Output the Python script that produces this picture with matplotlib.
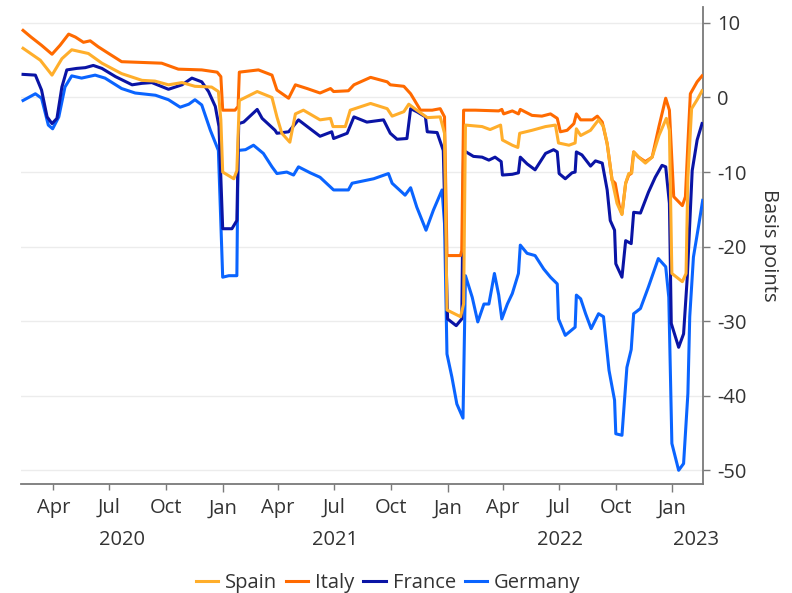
import numpy as np
import pandas as pd
import matplotlib
matplotlib.use("Agg")
import matplotlib.pyplot as plt
import matplotlib.dates as mdates
import matplotlib.transforms as mtransforms

# =============================================================================
# --- Data (basis points) -----------------------------------------------------
# =============================================================================

spain_dates = ['2020-02-12', '2020-03-11', '2020-03-30', '2020-04-15', '2020-05-01', '2020-05-28',
               '2020-06-19', '2020-07-21', '2020-08-23', '2020-09-13', '2020-10-05', '2020-10-27',
               '2020-11-17', '2020-12-14', '2020-12-25', '2020-12-29', '2021-01-01', '2021-01-19',
               '2021-01-24', '2021-01-28', '2021-02-26', '2021-03-22', '2021-03-30', '2021-04-07',
               '2021-04-20', '2021-04-29', '2021-05-12', '2021-06-08', '2021-06-25', '2021-06-29',
               '2021-07-19', '2021-07-27', '2021-08-29', '2021-09-25', '2021-10-03', '2021-10-22',
               '2021-10-30', '2021-11-12', '2021-11-29', '2021-12-20', '2021-12-27', '2021-12-31',
               '2022-01-22', '2022-01-27', '2022-01-30', '2022-02-26', '2022-03-11', '2022-03-28',
               '2022-03-31', '2022-04-16', '2022-04-25', '2022-04-28', '2022-05-18', '2022-06-09',
               '2022-06-25', '2022-06-30', '2022-07-17', '2022-07-27', '2022-07-29', '2022-08-05',
               '2022-08-21', '2022-09-03', '2022-09-11', '2022-09-17', '2022-09-25', '2022-10-03',
               '2022-10-11', '2022-10-17', '2022-10-22', '2022-10-27', '2022-10-30', '2022-11-07',
               '2022-11-18', '2022-11-29', '2022-12-10', '2022-12-22', '2022-12-27', '2022-12-31',
               '2023-01-17', '2023-01-23', '2023-01-26', '2023-02-01', '2023-02-10', '2023-02-18']
spain = [6.6, 5.0, 3.0, 5.2, 6.4, 5.9,
         4.6, 3.2, 2.3, 2.2, 1.7, 2.0,
         1.5, 1.4, 0.8, -3.0, -10.0, -10.9,
         -9.8, -0.4, 0.8, 0.0, -2.6, -4.8,
         -6.0, -2.2, -1.7, -3.0, -2.8, -3.9,
         -3.9, -1.7, -0.8, -1.5, -2.5, -1.9,
         -0.9, -1.7, -2.7, -2.6, -4.8, -28.5,
         -29.4, -27.7, -3.7, -3.9, -4.3, -3.7,
         -5.7, -6.4, -6.7, -4.8, -4.4, -3.9,
         -3.7, -6.1, -6.4, -6.1, -4.2, -5.1,
         -4.4, -3.0, -3.9, -6.2, -11.1, -14.2,
         -15.7, -11.5, -10.2, -10.1, -7.3, -8.0,
         -8.8, -8.0, -5.1, -2.8, -4.4, -23.6,
         -24.7, -23.6, -10.7, -1.5, -0.3, 0.9]

italy_dates = ['2020-02-12', '2020-02-25', '2020-03-13', '2020-03-30', '2020-04-12', '2020-04-26',
               '2020-05-07', '2020-05-20', '2020-05-31', '2020-06-13', '2020-06-30', '2020-07-21',
               '2020-08-23', '2020-09-24', '2020-10-21', '2020-11-28', '2020-12-23', '2020-12-29',
               '2021-01-01', '2021-01-21', '2021-01-26', '2021-01-28', '2021-02-28', '2021-03-22',
               '2021-03-30', '2021-04-18', '2021-04-29', '2021-05-18', '2021-06-08', '2021-06-25',
               '2021-06-30', '2021-07-24', '2021-08-02', '2021-08-29', '2021-09-25', '2021-09-30',
               '2021-10-22', '2021-11-02', '2021-11-18', '2021-12-07', '2021-12-20', '2021-12-27',
               '2021-12-31', '2022-01-22', '2022-01-24', '2022-01-27', '2022-02-15', '2022-03-25',
               '2022-03-30', '2022-04-02', '2022-04-16', '2022-04-26', '2022-04-29', '2022-05-18',
               '2022-06-03', '2022-06-17', '2022-06-28', '2022-07-03', '2022-07-14', '2022-07-25',
               '2022-07-29', '2022-08-05', '2022-08-24', '2022-09-01', '2022-09-09', '2022-09-17',
               '2022-09-25', '2022-09-30', '2022-10-07', '2022-10-11', '2022-10-17', '2022-10-22',
               '2022-10-26', '2022-10-30', '2022-11-07', '2022-11-18', '2022-11-29', '2022-12-10',
               '2022-12-21', '2022-12-27', '2022-12-31', '2023-01-03', '2023-01-17', '2023-01-22',
               '2023-01-26', '2023-01-30', '2023-02-10', '2023-02-18']
italy = [9.0, 8.1, 7.0, 5.8, 7.0, 8.5,
         8.1, 7.4, 7.6, 6.8, 5.9, 4.8,
         4.7, 4.6, 3.8, 3.7, 3.4, 2.8,
         -1.7, -1.7, -1.2, 3.4, 3.7, 3.0,
         1.0, -0.1, 1.7, 1.2, 0.6, 1.2,
         0.8, 0.9, 1.7, 2.7, 2.1, 1.7,
         1.5, 0.5, -1.7, -1.7, -1.5, -2.6,
         -21.2, -21.2, -20.5, -1.7, -1.7, -1.8,
         -1.6, -2.2, -1.8, -2.2, -1.6, -2.4,
         -2.5, -2.2, -2.8, -4.6, -4.4, -3.5,
         -2.2, -3.0, -3.0, -2.5, -3.3, -6.2,
         -11.1, -11.5, -14.7, -15.6, -11.5, -10.4,
         -10.2, -7.3, -8.0, -8.6, -8.0, -3.9,
         -0.1, -1.7, -8.4, -13.3, -14.5, -13.3,
         -6.2, 0.5, 2.1, 2.9]

france_dates = ['2020-02-12', '2020-03-03', '2020-03-13', '2020-03-22', '2020-03-30', '2020-04-07',
                '2020-04-15', '2020-04-23', '2020-05-09', '2020-05-23', '2020-06-05', '2020-06-19',
                '2020-07-11', '2020-08-07', '2020-08-23', '2020-09-08', '2020-10-05', '2020-10-27',
                '2020-11-12', '2020-11-28', '2020-12-09', '2020-12-20', '2020-12-26', '2021-01-01',
                '2021-01-16', '2021-01-24', '2021-01-27', '2021-02-04', '2021-02-26', '2021-03-06',
                '2021-03-27', '2021-03-30', '2021-04-18', '2021-05-04', '2021-05-23', '2021-06-08',
                '2021-06-27', '2021-06-30', '2021-07-22', '2021-08-02', '2021-08-23', '2021-09-19',
                '2021-09-30', '2021-10-11', '2021-10-27', '2021-11-02', '2021-11-12', '2021-11-26',
                '2021-11-29', '2021-12-15', '2021-12-25', '2022-01-01', '2022-01-15', '2022-01-24',
                '2022-01-27', '2022-02-12', '2022-02-26', '2022-03-09', '2022-03-19', '2022-03-29',
                '2022-03-31', '2022-04-16', '2022-04-26', '2022-04-29', '2022-05-10', '2022-05-23',
                '2022-06-09', '2022-06-22', '2022-06-28', '2022-07-01', '2022-07-11', '2022-07-22',
                '2022-07-27', '2022-07-29', '2022-08-07', '2022-08-21', '2022-08-29', '2022-09-09',
                '2022-09-17', '2022-09-22', '2022-09-29', '2022-10-01', '2022-10-11', '2022-10-17',
                '2022-10-26', '2022-10-30', '2022-11-10', '2022-11-23', '2022-12-04', '2022-12-15',
                '2022-12-21', '2022-12-27', '2022-12-30', '2023-01-11', '2023-01-19', '2023-01-25',
                '2023-02-02', '2023-02-10', '2023-02-18']
france = [3.1, 3.0, 1.0, -2.6, -3.5, -2.8,
          1.4, 3.7, 3.9, 4.0, 4.3, 3.9,
          2.8, 1.7, 1.9, 2.0, 1.1, 1.7,
          2.6, 2.1, 0.8, -1.2, -3.9, -17.6,
          -17.6, -16.5, -3.5, -3.3, -1.6, -2.8,
          -4.4, -4.8, -4.6, -3.0, -4.2, -5.2,
          -4.6, -5.5, -4.8, -2.6, -3.3, -3.0,
          -4.8, -5.6, -5.5, -1.5, -1.9, -2.6,
          -4.6, -4.7, -7.1, -29.7, -30.6, -29.7,
          -7.1, -7.9, -8.0, -8.4, -8.0, -8.6,
          -10.4, -10.3, -10.1, -8.0, -8.9, -9.7,
          -7.5, -7.0, -7.3, -10.2, -10.9, -10.1,
          -10.0, -7.3, -7.7, -9.2, -8.5, -8.8,
          -12.4, -16.5, -17.8, -22.3, -24.1, -19.2,
          -19.6, -15.4, -15.5, -12.7, -10.7, -9.1,
          -9.3, -14.2, -30.3, -33.5, -31.7, -24.1,
          -9.8, -5.7, -3.5]

germany_dates = ['2020-02-12', '2020-03-03', '2020-03-13', '2020-03-24', '2020-03-31', '2020-04-10',
                 '2020-04-20', '2020-05-01', '2020-05-17', '2020-06-08', '2020-06-24', '2020-07-21',
                 '2020-08-12', '2020-09-14', '2020-10-05', '2020-10-24', '2020-11-07', '2020-11-17',
                 '2020-11-28', '2020-12-12', '2020-12-25', '2021-01-01', '2021-01-11', '2021-01-24',
                 '2021-01-26', '2021-02-07', '2021-02-20', '2021-03-08', '2021-03-22', '2021-03-30',
                 '2021-04-15', '2021-04-26', '2021-05-04', '2021-05-23', '2021-06-08', '2021-06-30',
                 '2021-07-24', '2021-07-30', '2021-09-03', '2021-09-27', '2021-10-03', '2021-10-24',
                 '2021-11-02', '2021-11-12', '2021-11-27', '2021-12-09', '2021-12-23', '2021-12-27',
                 '2021-12-31', '2022-01-08', '2022-01-16', '2022-01-26', '2022-01-30', '2022-02-10',
                 '2022-02-19', '2022-03-01', '2022-03-09', '2022-03-13', '2022-03-18', '2022-03-25',
                 '2022-03-30', '2022-04-08', '2022-04-16', '2022-04-26', '2022-04-29', '2022-05-10',
                 '2022-05-23', '2022-06-06', '2022-06-17', '2022-06-28', '2022-06-30', '2022-07-11',
                 '2022-07-27', '2022-07-29', '2022-08-05', '2022-08-13', '2022-08-22', '2022-09-03',
                 '2022-09-11', '2022-09-20', '2022-09-29', '2022-10-01', '2022-10-11', '2022-10-19',
                 '2022-10-26', '2022-10-30', '2022-11-10', '2022-11-23', '2022-12-09', '2022-12-21',
                 '2022-12-26', '2022-12-31', '2023-01-11', '2023-01-19', '2023-01-26', '2023-01-29',
                 '2023-02-04', '2023-02-13', '2023-02-19']
germany = [-0.4, 0.5, -0.1, -3.7, -4.2, -2.6,
           1.4, 2.9, 2.6, 3.0, 2.6, 1.2,
           0.6, 0.3, -0.3, -1.3, -0.9, -0.3,
           -1.0, -4.4, -7.1, -24.1, -23.9, -23.9,
           -7.1, -7.0, -6.4, -7.5, -9.3, -10.2,
           -10.0, -10.4, -9.3, -10.1, -10.7, -12.4,
           -12.4, -11.5, -10.9, -10.2, -11.5, -13.1,
           -12.1, -14.7, -17.8, -15.1, -12.4, -16.9,
           -34.4, -37.5, -41.1, -43.0, -23.9, -26.8,
           -30.1, -27.7, -27.7, -25.9, -23.6, -26.5,
           -29.7, -27.7, -26.3, -23.6, -19.8, -20.9,
           -21.2, -23.0, -24.1, -25.0, -29.7, -31.9,
           -30.8, -26.5, -27.0, -29.0, -31.0, -29.0,
           -29.4, -36.6, -40.6, -45.1, -45.3, -36.2,
           -33.8, -29.0, -28.3, -25.4, -21.6, -22.7,
           -26.8, -46.4, -50.0, -49.1, -39.7, -29.4,
           -21.4, -16.9, -13.8]

series_names = ['Spain', 'Italy', 'France', 'Germany']
series_colors = ['#FFAE2B', '#FF6A00', '#0A14A5', '#0A64FF']

year_labels = ['2020', '2021', '2022', '2023']
year_label_dates = ['2020-07-21', '2021-07-02', '2022-07-02', '2023-02-08']

# =============================================================================
# --- Figure ------------------------------------------------------------------
# =============================================================================

plt.rcParams['font.family'] = ['Open Sans', 'DejaVu Sans']
fs = 14.5
text_color = '#333333'
axis_color = '#7a7a7a'

fig = plt.figure(figsize=(7.92, 5.93), dpi=100)
ax = fig.add_axes([0.026, 0.183, 0.862, 0.806])

data = [(spain_dates, spain), (italy_dates, italy), (france_dates, france), (germany_dates, germany)]
handles = []
for k, (d, v) in enumerate(data):
    l, = ax.plot(pd.to_datetime(d), v, color=series_colors[k], linewidth=2.2,
                 label=series_names[k], zorder=10 - k, solid_joinstyle='round')
    handles.append(l)

ax.set_xlim(pd.Timestamp('2020-02-08'), pd.Timestamp('2023-02-20'))
ax.set_ylim(-51.9, 12.2)

# axe des y a droite
ax.yaxis.tick_right()
ax.yaxis.set_label_position('right')
ax.set_yticks([10, 0, -10, -20, -30, -40, -50])
ax.set_yticklabels(['10', '0', '-10', '-20', '-30', '-40', '-50'])
ax.set_ylabel('Basis points', rotation=270, labelpad=23, color=text_color, fontsize=fs)
ax.tick_params(axis='y', direction='out', length=5, width=1, color=axis_color,
               labelcolor=text_color, pad=5, labelsize=fs)
ax.grid(axis='y', color='#ececec', linewidth=1)
ax.set_axisbelow(True)

# axe des x : Jan en majeur, trimestres en mineur
ax.xaxis.set_major_locator(mdates.MonthLocator(bymonth=[1]))
ax.xaxis.set_minor_locator(mdates.MonthLocator(bymonth=[4, 7, 10]))
ax.xaxis.set_major_formatter(mdates.DateFormatter('%b'))
ax.xaxis.set_minor_formatter(mdates.DateFormatter('%b'))
ax.tick_params(axis='x', which='major', direction='out', length=6, width=1, color=axis_color,
               labelcolor=text_color, pad=4, labelsize=fs)
ax.tick_params(axis='x', which='minor', direction='out', length=4, width=1, color=axis_color,
               labelcolor=text_color, pad=5.5, labelsize=fs)

trans = mtransforms.blended_transform_factory(ax.transData, ax.transAxes)
for lab, d in zip(year_labels, year_label_dates):
    ax.text(mdates.date2num(pd.Timestamp(d)), -0.116, lab, transform=trans,
            ha='center', va='center', color=text_color, fontsize=fs)

for s in ['top', 'left']:
    ax.spines[s].set_visible(False)
for s in ['right', 'bottom']:
    ax.spines[s].set_color(axis_color)
    ax.spines[s].set_linewidth(1.3)

fig.legend(handles=handles, labels=series_names, loc='lower center', bbox_to_anchor=(0.49, -0.03),
           ncol=4, frameon=False, handlelength=1.1, handletextpad=0.35, columnspacing=0.45,
           fontsize=fs, labelcolor=text_color)

fig.savefig('out.png', dpi=100)
